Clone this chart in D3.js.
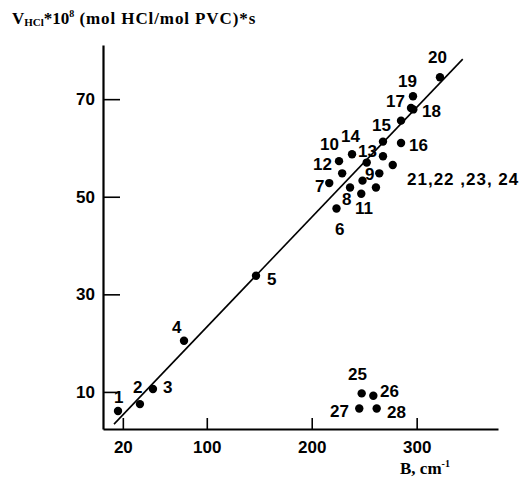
<!DOCTYPE html>
<html>
<head>
<meta charset="utf-8">
<script src="https://cdn.jsdelivr.net/npm/d3@7"></script>
<style>
  body { margin: 0; background: #fff; }
</style>
</head>
<body>
<div id="chart"></div>
<script>
// sample numbers and their B / V values
const pointNames = ["1", "2", "3", "4", "5", "6", "7", "8", "9", "10", "11", "12", "13", "14",
    "15", "16", "17", "18", "19", "20", "21", "22", "23", "24", "-", "25", "26", "27", "28"];
const pointB = [15.4, 36.3, 48.7, 78.3, 146.9, 223.6, 216.7, 236.5, 248.4, 229.0, 247.2, 226.0, 252.4, 238.4,
    285.1, 285.1, 294.6, 296.8, 296.5, 322.2, 264.4, 267.9, 277.2, 261.2, 267.9, 247.6, 258.7, 245.3, 261.9];
const pointV = [6.1, 7.5, 10.6, 20.5, 33.8, 47.6, 52.8, 51.9, 53.3, 54.8, 50.6, 57.3, 57.0, 58.7,
    65.6, 61.0, 68.2, 67.9, 70.6, 74.5, 54.8, 58.3, 56.5, 51.9, 61.3, 9.7, 9.2, 6.6, 6.6];

// number labels (where they sit, in data units)
const labelTexts = ["1", "2", "3", "4", "5", "6", "7", "8", "9", "10", "11", "12", "13", "14",
    "15", "16", "17", "18", "19", "20", "21,22 ,23, 24", "25", "26", "27", "28"];
const labelB = [11.6, 29.7, 58.3, 66.8, 157.4, 222.2, 203.1, 228.8, 250.8, 207.9, 241.2, 201.2, 244.1, 227.9,
    257.4, 292.7, 270.8, 305.1, 282.2, 310.8, 290.8, 234.6, 265.0, 217.4, 271.7];
const labelV = [7.7, 9.8, 9.8, 22.1, 31.9, 42.2, 51.0, 48.3, 53.4, 59.6, 46.4, 55.5, 58.1, 61.2,
    63.5, 59.4, 68.4, 66.3, 72.5, 77.4, 52.4, 12.4, 9.0, 4.9, 4.7];

// fitted straight line ends
const fitB = [11.6, 343.9];
const fitV = [3.4, 78.2];

const xTicks = [20, 100, 200, 300];
const yTicks = [10, 30, 50, 70];

let width = 522;
let height = 479;

let svg = d3.select("#chart")
    .append("svg")
    .attr("width", width)
    .attr("height", height)
    .style("background", "#fff");

let x = d3.scaleLinear().domain([1.1, 377.5]).range([103, 498]);
let y = d3.scaleLinear().domain([2.4, 81.1]).range([429, 45]);

let numFont = "'Liberation Sans', Arial, sans-serif";
let serifFont = "'Liberation Serif', 'Times New Roman', serif";

// axes, ticks pointing inside
let yAxis = svg.append("g")
    .attr("transform", "translate(103,0)")
    .call(d3.axisLeft(y).tickValues(yTicks).tickSizeInner(-17).tickSizeOuter(0).tickPadding(8));
let xAxis = svg.append("g")
    .attr("transform", "translate(0,429)")
    .call(d3.axisBottom(x).tickValues(xTicks).tickSizeInner(-11).tickSizeOuter(0).tickPadding(12));

[xAxis, yAxis].forEach(g => {
    g.select(".domain").attr("stroke", "#000").attr("stroke-width", 2.2);
    g.selectAll(".tick line").attr("stroke", "#000").attr("stroke-width", 1.6);
    g.selectAll(".tick text")
        .attr("fill", "#000")
        .style("font-family", numFont)
        .style("font-size", "17px")
        .style("font-weight", "bold");
});

// regression line
svg.append("line")
    .attr("x1", x(fitB[0])).attr("y1", y(fitV[0]))
    .attr("x2", x(fitB[1])).attr("y2", y(fitV[1]))
    .attr("stroke", "#000")
    .attr("stroke-width", 1.6);

// points
let points = pointNames.map((n, i) => ({name: n, b: pointB[i], v: pointV[i]}));
svg.selectAll("circle.pt")
    .data(points)
    .enter()
    .append("circle")
    .attr("class", "pt")
    .attr("cx", d => x(d.b))
    .attr("cy", d => y(d.v))
    .attr("r", 4.2)
    .attr("fill", "#000")
    .append("title")
    .text(d => `sample ${d.name}: B=${d.b}, V=${d.v}`);

// number labels
let labels = labelTexts.map((t, i) => ({text: t, b: labelB[i], v: labelV[i]}));
svg.selectAll("text.lbl")
    .data(labels)
    .enter()
    .append("text")
    .attr("class", "lbl")
    .attr("x", d => x(d.b))
    .attr("y", d => y(d.v))
    .text(d => d.text)
    .style("font-family", numFont)
    .style("font-size", "17px")
    .style("font-weight", "bold")
    .style("letter-spacing", d => d.text.length > 2 ? "1px" : "0px")
    .attr("fill", "#000");

// y title
let title = svg.append("text")
    .attr("x", 12)
    .attr("y", 24)
    .style("font-family", serifFont)
    .style("font-weight", "bold")
    .style("font-size", "17px")
    .attr("fill", "#000");
title.append("tspan").text("V");
title.append("tspan").text("HCl").style("font-size", "11px").attr("dy", 2);
title.append("tspan").text("*10").attr("dy", -2);
title.append("tspan").text("8").style("font-size", "10px").attr("dy", -7);
title.append("tspan").text(" (mol HCl/mol PVC)*s").attr("dy", 7).style("letter-spacing", "0.9px");

// x title
let xTitle = svg.append("text")
    .attr("x", 400)
    .attr("y", 474)
    .style("font-family", serifFont)
    .style("font-weight", "bold")
    .style("font-size", "17px")
    .attr("fill", "#000");
xTitle.append("tspan").text("B, cm");
xTitle.append("tspan").text("-1").style("font-size", "10px").attr("dy", -7);
</script>
</body>
</html>
